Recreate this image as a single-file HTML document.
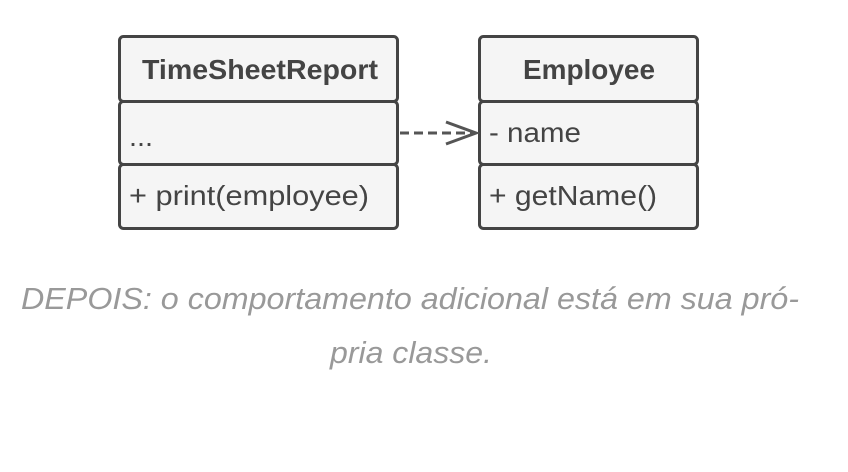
<!DOCTYPE html>
<html><head><meta charset="utf-8"><style>
html,body{margin:0;padding:0;background:#fff;}
svg{display:block;}
</style></head><body>
<svg width="848" height="472" viewBox="0 0 848 472" xmlns="http://www.w3.org/2000/svg" font-family="Liberation Sans, sans-serif">
<g fill="#f5f5f5" stroke="#444" stroke-width="3">
<rect x="119.5" y="36.5" width="278" height="65" rx="4"/>
<rect x="119.5" y="101.5" width="278" height="63" rx="4"/>
<rect x="119.5" y="164.5" width="278" height="64" rx="4"/>
<rect x="479.5" y="36.5" width="218" height="65" rx="4"/>
<rect x="479.5" y="101.5" width="218" height="63" rx="4"/>
<rect x="479.5" y="164.5" width="218" height="64" rx="4"/>
</g>
<g fill="#444" font-size="28">
<text x="142" y="79" font-weight="bold" textLength="236" lengthAdjust="spacingAndGlyphs">TimeSheetReport</text>
<text x="523" y="79" font-weight="bold" textLength="132" lengthAdjust="spacingAndGlyphs">Employee</text>
<text x="129" y="146" textLength="24" lengthAdjust="spacingAndGlyphs">...</text>
<text x="129" y="205" textLength="240" lengthAdjust="spacingAndGlyphs">+ print(employee)</text>
<text x="489" y="142" textLength="92" lengthAdjust="spacingAndGlyphs">- name</text>
<text x="489" y="205" textLength="168" lengthAdjust="spacingAndGlyphs">+ getName()</text>
</g>
<line x1="400" y1="133" x2="474" y2="133" stroke="#555" stroke-width="3" stroke-dasharray="9,5"/>
<polyline points="446,122 476,133 446,144" fill="none" stroke="#555" stroke-width="3"/>
<g fill="#999" font-style="italic" font-size="31">
<text x="21" y="309" textLength="778" lengthAdjust="spacingAndGlyphs">DEPOIS: o comportamento adicional está em sua pró-</text>
<text x="330" y="363" textLength="162" lengthAdjust="spacingAndGlyphs">pria classe.</text>
</g>
</svg>
</body></html>
